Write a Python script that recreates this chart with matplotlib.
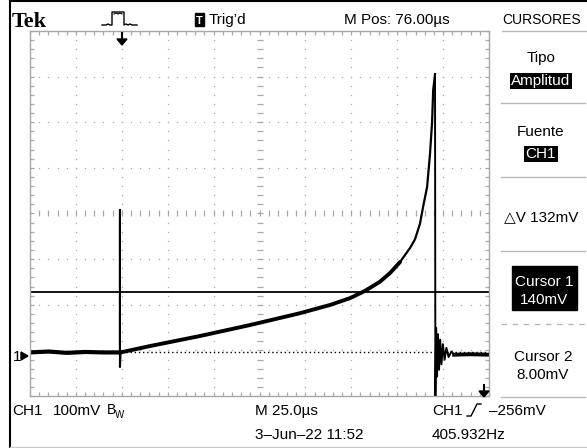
import numpy as np
import matplotlib.pyplot as plt
from matplotlib.lines import Line2D
from matplotlib.patches import Rectangle, Polygon

plt.rcParams['font.family'] = ['Liberation Sans', 'DejaVu Sans']

W, H = 587, 448

# CH1 trace, time in us from left screen edge, level in mV above ground
pre_t = [0, 10, 20, 30, 40, 49]
pre_v = [8, 10, 7, 9, 8, 8]
spike_t = [49, 49, 49, 49.3]
spike_v = [8, 320, -24, 8]
rise_t = [49.3, 65.4, 92.6, 119.8, 147.1, 163.4, 174.3, 182.5, 190.6, 196.1,
          201.5, 207.0, 209.7, 212.4, 214.1, 216.3, 217.9, 219.0, 219.6, 220.6]
rise_v = [8, 22, 44, 68, 94, 112, 127, 143, 163, 182,
          206, 237, 256, 290, 327, 371, 445, 513, 583, 618]
ring_t = [220.6, 220.8, 221.2, 221.7, 222.2, 222.8, 223.4, 224.1, 224.9, 225.8,
          226.8, 228.0, 229.5, 231.0]
ring_v = [618, -95, 62, -45, 48, -30, 36, -18, 26, -8, 18, -2, 10, 3]
post_t = [231, 240, 250]
post_v = [3, 4, 3]

cursor1 = 140
cursor2 = 8

fig = plt.figure(figsize=(W / 100, H / 100), dpi=100)
fig.patch.set_facecolor('white')


def fx(x):
    return x / W


def fy(y):
    return 1 - y / H


def ftext(x, y, s, **kw):
    kw.setdefault('fontsize', 11)
    kw.setdefault('va', 'baseline')
    fig.text(fx(x), fy(y), s, **kw)


def fline(xs, ys, **kw):
    fig.add_artist(Line2D([fx(v) for v in xs], [fy(v) for v in ys], **kw))


ax = fig.add_axes([fx(30), fy(396), 459 / W, 365 / H])
ax.set_xlim(0, 250)
ax.set_ylim(-87.5, 712.5)

grey = '#a8a8a8'
gx = np.arange(0, 250.01, 5)
gy = np.arange(-87.5, 712.51, 20)
for i in range(1, 10):
    if i == 5:
        continue
    ax.plot(np.full_like(gy, 25 * i), gy, ls='none', marker='s', ms=0.9, color=grey, mew=0)
for j in range(1, 8):
    if j == 4:
        continue
    ax.plot(gx, np.full_like(gx, -87.5 + 100 * j), ls='none', marker='s', ms=0.9, color=grey, mew=0)
# centre cross with minor ticks
ax.plot(gx, np.full_like(gx, 312.5), ls='none', marker='|', ms=4, color=grey, mew=0.9)
ax.plot(np.full_like(gy, 125), gy, ls='none', marker='_', ms=4, color=grey, mew=0.9)

ax.set_xticks(gx)
ax.set_yticks(gy)
ax.tick_params(direction='in', length=3, width=0.9, color=grey,
               top=True, right=True, labelbottom=False, labelleft=False)
for sp in ax.spines.values():
    sp.set_color(grey)
    sp.set_linewidth(1)

# cursors
ax.axhline(cursor1, color='black', lw=1.3)
ax.axhline(cursor2, color='black', lw=1.0, ls=(0, (1, 2)))

# trace
ax.plot(pre_t, pre_v, color='black', lw=3)
ax.plot(spike_t, spike_v, color='black', lw=1.5)
ax.plot(rise_t, rise_v, color='black', lw=1.6)
ax.plot(rise_t[:11], rise_v[:11], color='black', lw=2.8, solid_capstyle='round')
ax.plot(ring_t, ring_v, color='black', lw=1.4)
ax.plot(post_t, post_v, color='black', lw=2.8)

# frame lines of the screen
fline([10, 10], [0, 448], color='black', lw=1.5)
fline([10, 587], [1.5, 1.5], color='black', lw=1.5)
fline([10, 587], [446.5, 446.5], color='#c8c8c8', lw=1)

# top status line
ftext(12, 27, 'Tek', fontsize=16, fontweight='bold', family='Liberation Serif')
fline([102, 106, 108, 110, 112, 112, 124, 124, 126, 128, 130, 132, 137],
      [25, 25, 24, 25, 25, 12, 12, 25, 24, 25, 24, 25, 25], color='black', lw=1)
fline([114, 116, 118, 120, 122], [14, 13, 14, 13, 14], color='black', lw=0.8)
fig.add_artist(Rectangle((fx(195), fy(26)), 9 / W, 13 / H, color='black'))
ftext(199.5, 24, 'T', fontsize=8, color='white', ha='center', fontweight='bold')
ftext(209, 24, "Trig’d", fontsize=11)
ftext(344, 24, 'M Pos: 76.00µs', fontsize=11)
ftext(502, 24, 'CURSORES', fontsize=10)

# trigger position marker
fline([122, 122], [33, 40], color='black', lw=1.5)
fig.add_artist(Polygon([(fx(117), fy(39)), (fx(127), fy(39)), (fx(122), fy(45))], color='black'))
# trigger level marker
fline([484, 484], [385, 392], color='black', lw=1.5)
fig.add_artist(Polygon([(fx(479), fy(391)), (fx(489), fy(391)), (fx(484), fy(397))], color='black'))
# ground marker
ftext(13, 361, '1', fontsize=11)
fig.add_artist(Polygon([(fx(21), fy(352)), (fx(21), fy(360)), (fx(28), fy(356))], color='black'))

# side menu
sep = '#b8b8b8'
fline([502, 587], [31, 31], color=sep, lw=1)
cx = 541
ftext(cx, 62, 'Tipo', ha='center')
ftext(cx, 85, 'Amplitud', ha='center', color='white',
      bbox=dict(facecolor='black', edgecolor='none', pad=1))
fline([501, 585], [103, 103], color=sep, lw=1)
ftext(cx, 136, 'Fuente', ha='center')
ftext(cx, 158, 'CH1', ha='center', color='white',
      bbox=dict(facecolor='black', edgecolor='none', pad=1))
fline([501, 585], [177, 177], color=sep, lw=1)
ftext(cx, 221, '△V 132mV', ha='center')
fline([501, 585], [251, 251], color=sep, lw=1)
fig.add_artist(Rectangle((fx(512), fy(310)), 65 / W, 44 / H, color='black'))
ftext(544, 286, 'Cursor 1', ha='center', color='white')
ftext(544, 304, '140mV', ha='center', color='white')
fline([501, 585], [324, 324], color=sep, lw=1, ls=(0, (4, 4)))
ftext(543, 361, 'Cursor 2', ha='center')
ftext(543, 379, '8.00mV', ha='center')
fline([501, 585], [397, 397], color=sep, lw=1)

# bottom status lines
ftext(12, 415, 'CH1', fontsize=11)
ftext(53, 415, '100mV', fontsize=11)
ftext(107, 414, 'B', fontsize=10)
ftext(115, 418, 'W', fontsize=7)
ftext(255, 415, 'M 25.0µs', fontsize=11)
ftext(255, 439, '3–Jun–22 11:52', fontsize=11)
ftext(432, 415, 'CH1', fontsize=11)
fline([467, 471, 477, 481], [416, 416, 404, 404], color='black', lw=1)
ftext(489, 415, '–256mV', fontsize=11)
ftext(432, 439, '405.932Hz', fontsize=11)

fig.savefig('out.png', dpi=100)
